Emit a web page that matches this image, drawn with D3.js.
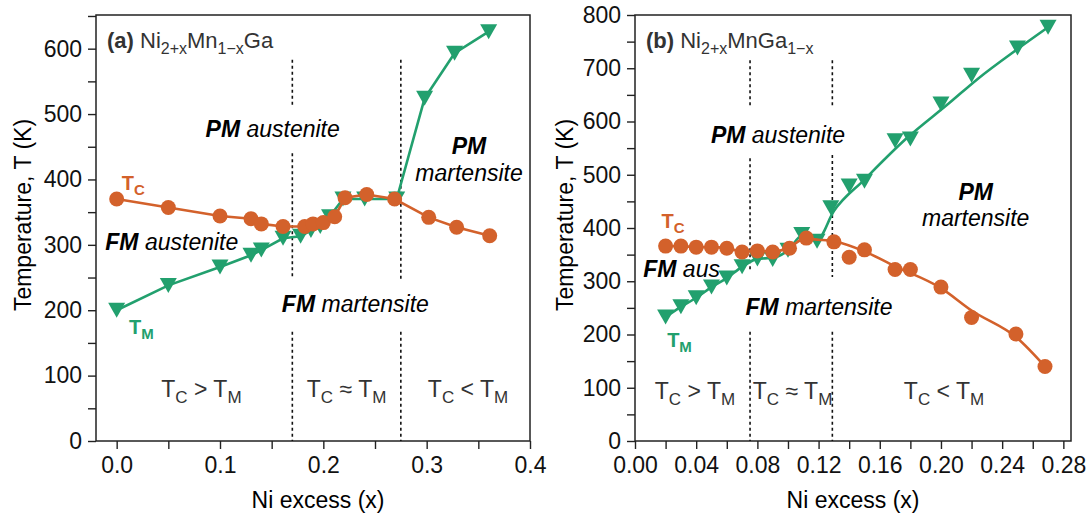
<!DOCTYPE html>
<html lang="en">
<head>
<meta charset="utf-8">
<title>Ni-Mn-Ga transition temperatures</title>
<script src="https://cdn.jsdelivr.net/npm/d3@7"></script>
<style>
  body { margin: 0; background: #fff; }
  svg { font-family: "Liberation Sans", Arial, sans-serif; }
  text { white-space: pre; }
</style>
</head>
<body>
<svg id="chart" width="1091" height="518"></svg>
<script>
// (a) Ni2+xMn1-xGa
var tcA_x = [0, 0.05, 0.10, 0.13, 0.14, 0.161, 0.182, 0.19, 0.20, 0.211, 0.221, 0.242, 0.269, 0.302, 0.329, 0.361]
var tcA_T = [370, 357, 344, 340, 332, 328, 328, 332, 334, 343, 372, 377, 370, 342, 327, 314]
var tmA_x = [0, 0.05, 0.10, 0.13, 0.14, 0.161, 0.178, 0.188, 0.197, 0.206, 0.219, 0.24, 0.271, 0.298, 0.327, 0.36]
var tmA_T = [200, 238, 266, 284, 292, 310, 313, 322, 328, 343, 370, 370, 370, 524, 593, 626]

// (b) Ni2+xMnGa1-x
var tcB_x = [0.02, 0.03, 0.04, 0.05, 0.06, 0.07, 0.08, 0.09, 0.101, 0.112, 0.13, 0.14, 0.15, 0.17, 0.18, 0.20, 0.22, 0.249, 0.268]
var tcB_T = [366, 366, 364, 364, 362, 355, 357, 355, 362, 381, 374, 345, 359, 322, 322, 289, 232, 201, 140]
var tmB_x = [0.02, 0.03, 0.04, 0.05, 0.06, 0.07, 0.08, 0.09, 0.10, 0.109, 0.119, 0.128, 0.14, 0.15, 0.17, 0.18, 0.20, 0.22, 0.25, 0.27]
var tmB_T = [233, 252, 269, 289, 306, 327, 342, 341, 358, 388, 375, 438, 479, 488, 564, 567, 633, 687, 738, 777]
// smooth guide lines drawn in (b)
var tcFitB_x = [0.02, 0.03, 0.04, 0.05, 0.06, 0.07, 0.08, 0.09, 0.10, 0.111, 0.12, 0.13, 0.15, 0.17, 0.20, 0.22, 0.25, 0.268]
var tcFitB_T = [366, 366, 364, 364, 362, 356, 357, 356, 362, 380, 378, 375, 356, 328, 287, 245, 193, 140]
var tmFitB_x = [0.02, 0.03, 0.04, 0.05, 0.06, 0.07, 0.08, 0.09, 0.10, 0.109, 0.119, 0.13, 0.15, 0.177, 0.206, 0.224, 0.25, 0.27]
var tmFitB_T = [233, 252, 269, 289, 306, 327, 342, 344, 358, 385, 378, 432, 491, 567, 636, 680, 736, 777]

var orange = "#d3612b", green = "#22a06e"

var svg = d3.select("#chart")

function rich(g, x, y, parts, size, anchor, fill) {
  var t = g.append("text").attr("x", x).attr("y", y)
    .attr("text-anchor", anchor || "start")
    .style("font-size", size + "px")
    .attr("fill", fill || "#000")
  var shift = 0
  parts.forEach(function(p) {
    var s = p.sub ? Math.round(size * 0.26) : 0
    var ts = t.append("tspan").text(p.t).attr("dy", s - shift)
    shift = s
    if (p.sub) ts.style("font-size", Math.round(size * 0.74) + "px")
    if (p.b) ts.style("font-weight", "bold")
    if (p.i) ts.style("font-style", "italic")
  })
  return t
}

function tri(w, h) {
  return "M" + (-w/2) + "," + (-h/2) + "L" + (w/2) + "," + (-h/2) + "L0," + (h/2) + "Z"
}

function panel(o) {
  var g = svg.append("g")
  var x = d3.scaleLinear().domain(o.xd).range(o.xr)
  var y = d3.scaleLinear().domain(o.yd).range([441, 15])

  var xa = g.append("g").attr("transform", "translate(0,441)")
    .call(d3.axisBottom(x).tickValues(o.xticks).tickSize(8).tickPadding(8).tickFormat(o.xfmt))
  var ya = g.append("g").attr("transform", "translate(" + o.xr[0] + ",0)")
    .call(d3.axisLeft(y).tickValues(d3.range(0, o.yd[1] + 1, 50)).tickSize(8).tickPadding(6)
      .tickFormat(d => d % 100 === 0 ? d : ""))
  g.selectAll(".domain").remove()
  g.selectAll(".tick line").attr("stroke", "#222").attr("stroke-width", 1.4)
  g.selectAll(".tick text").style("font-size", "23px").attr("fill", "#111")
    .style("font-family", "'Liberation Sans', Arial, sans-serif")

  g.append("rect").attr("x", o.xr[0]).attr("y", 15)
    .attr("width", o.xr[1] - o.xr[0]).attr("height", 426)
    .attr("fill", "none").attr("stroke", "#222").attr("stroke-width", 1.5)

  // dotted phase boundaries
  o.dashes.forEach(function(d) {
    d.segs.forEach(function(s) {
      g.append("line").attr("x1", x(d.x)).attr("x2", x(d.x))
        .attr("y1", y(s[0])).attr("y2", y(s[1]))
        .attr("stroke", "#111").attr("stroke-width", 1.6)
        .attr("stroke-dasharray", "3,3")
    })
  })

  // axis titles
  g.append("text")
    .attr("transform", "translate(" + o.ytx + ",215) rotate(-90)")
    .attr("text-anchor", "middle").style("font-size", "23px").text("Temperature, T (K)")
  g.append("text").attr("x", o.xtx).attr("y", 508)
    .attr("text-anchor", "middle").style("font-size", "23px").text("Ni excess (x)")

  // panel title
  rich(g, o.xr[0] + 11, 48, o.title, 22, "start", "#333")

  o.notes.forEach(function(n) {
    rich(g, x(n.x), y(n.T), n.parts, n.size || 23, n.anchor, n.fill)
  })

  var line = d3.line().x(d => x(d[0])).y(d => y(d[1]))
  var tm = d3.zip(o.tmx, o.tmT), tc = d3.zip(o.tcx, o.tcT)
  var tmLine = o.tmFit ? d3.zip(o.tmFit[0], o.tmFit[1]) : tm
  var tcLine = o.tcFit ? d3.zip(o.tcFit[0], o.tcFit[1]) : tc
  if (o.smooth) line.curve(d3.curveMonotoneX)

  g.append("path").datum(tmLine).attr("d", line)
    .attr("fill", "none").attr("stroke", green).attr("stroke-width", 2.6)
  g.selectAll(".tm").data(tm).enter().append("path")
    .attr("class", "tm")
    .attr("transform", d => "translate(" + x(d[0]) + "," + y(d[1]) + ")")
    .attr("d", tri(17, 15)).attr("fill", green)

  g.append("path").datum(tcLine).attr("d", line)
    .attr("fill", "none").attr("stroke", orange).attr("stroke-width", 2.6)
  g.selectAll(".tc").data(tc).enter().append("circle")
    .attr("class", "tc")
    .attr("cx", d => x(d[0])).attr("cy", d => y(d[1])).attr("r", 7.5)
    .attr("fill", orange)
}

function regime(sym) {
  return [{t: "T"}, {t: "C", sub: 1}, {t: " " + sym + " T"}, {t: "M", sub: 1}]
}

panel({
  xd: [-0.02, 0.4], xr: [96, 530], yd: [0, 651.5],
  xticks: d3.range(0, 0.4001, 0.05),
  xfmt: d => Math.round(d * 100) % 10 === 0 ? d3.format(".1f")(d) : "",
  ytx: 31, xtx: 318,
  title: [{t: "(a)", b: 1}, {t: " Ni"}, {t: "2+x", sub: 1}, {t: "Mn"}, {t: "1\u2212x", sub: 1}, {t: "Ga"}],
  tcx: tcA_x, tcT: tcA_T, tmx: tmA_x, tmT: tmA_T,
  dashes: [
    {x: 0.17, segs: [[583, 511], [440, 251], [167, 0]]},
    {x: 0.275, segs: [[583, 246], [167, 0]]}
  ],
  notes: [
    {x: 0.151, T: 465, anchor: "middle", parts: [{t: "PM", b: 1, i: 1}, {t: " austenite", i: 1}]},
    {x: 0.341, T: 439, anchor: "middle", parts: [{t: "PM", b: 1, i: 1}]},
    {x: 0.341, T: 397, anchor: "middle", parts: [{t: "martensite", i: 1}]},
    {x: -0.011, T: 292, parts: [{t: "FM", b: 1, i: 1}, {t: " austenite", i: 1}]},
    {x: 0.231, T: 197, anchor: "middle", parts: [{t: "FM", b: 1, i: 1}, {t: " martensite", i: 1}]},
    {x: 0.005, T: 384, size: 20, fill: orange, parts: [{t: "T", b: 1}, {t: "C", b: 1, sub: 1}]},
    {x: 0.012, T: 164, size: 20, fill: green, parts: [{t: "T", b: 1}, {t: "M", b: 1, sub: 1}]},
    {x: 0.082, T: 67, anchor: "middle", fill: "#333", parts: regime(">")},
    {x: 0.2225, T: 67, anchor: "middle", fill: "#333", parts: regime("\u2248")},
    {x: 0.34, T: 67, anchor: "middle", fill: "#333", parts: regime("<")}
  ]
})

panel({
  xd: [0, 0.285], xr: [635, 1071], yd: [0, 800],
  xticks: d3.range(0, 0.2801, 0.02),
  xfmt: d => Math.round(d * 100) % 4 === 0 ? d3.format(".2f")(d) : "",
  ytx: 573, xtx: 853,
  title: [{t: "(b)", b: 1}, {t: " Ni"}, {t: "2+x", sub: 1}, {t: "MnGa"}, {t: "1\u2212x", sub: 1}],
  tcx: tcB_x, tcT: tcB_T, tmx: tmB_x, tmT: tmB_T,
  tcFit: [tcFitB_x, tcFitB_T], tmFit: [tmFitB_x, tmFitB_T], smooth: true,
  dashes: [
    {x: 0.0752, segs: [[715, 625], [531, 317], [205, 0]]},
    {x: 0.129, segs: [[715, 625], [537, 308], [205, 0]]}
  ],
  notes: [
    {x: 0.0935, T: 559, anchor: "middle", parts: [{t: "PM", b: 1, i: 1}, {t: " austenite", i: 1}]},
    {x: 0.2227, T: 453, anchor: "middle", parts: [{t: "PM", b: 1, i: 1}]},
    {x: 0.2227, T: 404, anchor: "middle", parts: [{t: "martensite", i: 1}]},
    {x: 0.0054, T: 308, parts: [{t: "FM", b: 1, i: 1}, {t: " aus", i: 1}]},
    {x: 0.1203, T: 237, anchor: "middle", parts: [{t: "FM", b: 1, i: 1}, {t: " martensite", i: 1}]},
    {x: 0.0174, T: 400, size: 20, fill: orange, parts: [{t: "T", b: 1}, {t: "C", b: 1, sub: 1}]},
    {x: 0.021, T: 177, size: 20, fill: green, parts: [{t: "T", b: 1}, {t: "M", b: 1, sub: 1}]},
    {x: 0.0392, T: 79, anchor: "middle", fill: "#333", parts: regime(">")},
    {x: 0.103, T: 79, anchor: "middle", fill: "#333", parts: regime("\u2248")},
    {x: 0.202, T: 79, anchor: "middle", fill: "#333", parts: regime("<")}
  ]
})
</script>
</body>
</html>
